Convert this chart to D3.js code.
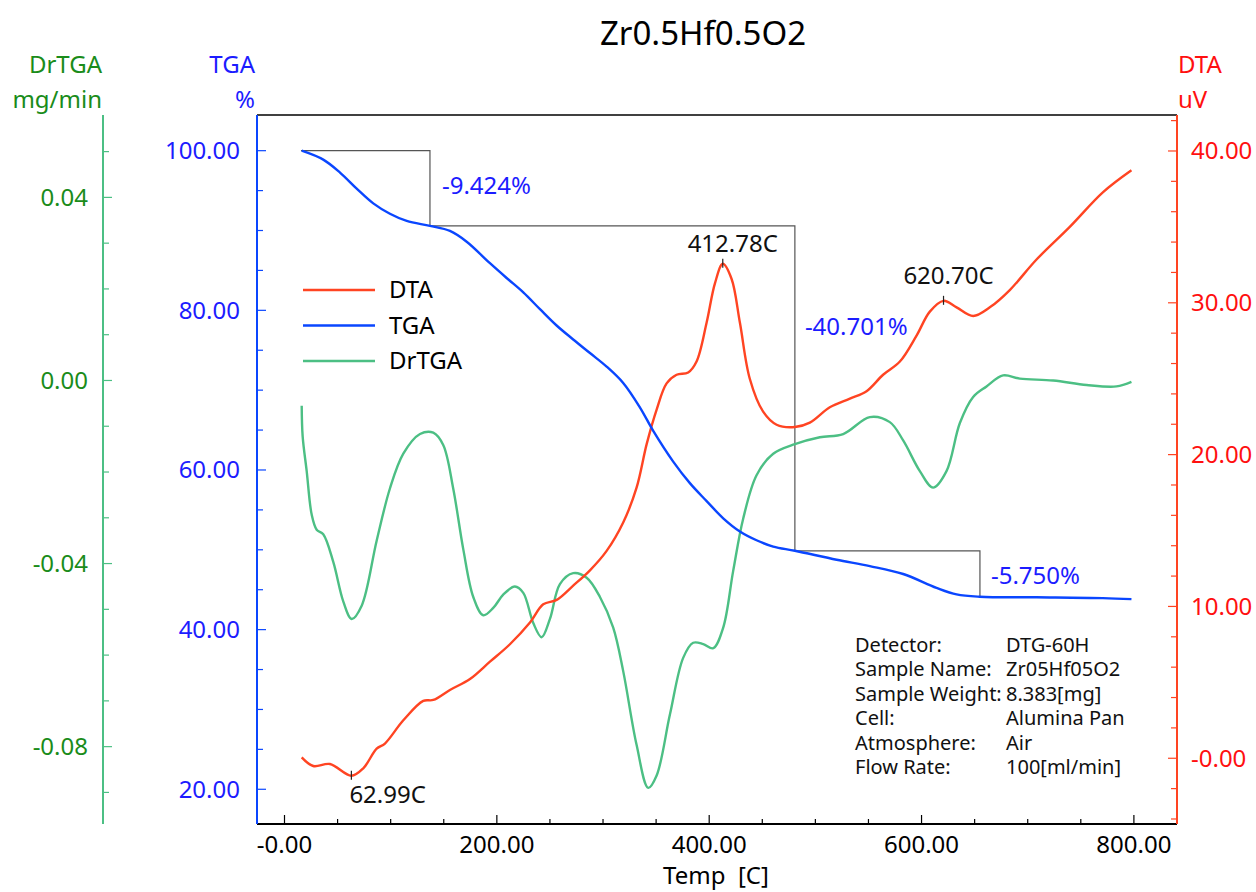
<!DOCTYPE html>
<html>
<head>
<meta charset="utf-8">
<script src="https://cdn.jsdelivr.net/npm/d3@7"></script>
<style>
  html, body { margin: 0; padding: 0; background: #fff; }
  svg { display: block; font-family: "Noto Sans", "Open Sans", sans-serif; }
</style>
</head>
<body>
<svg id="chart" width="1256" height="892"></svg>
<script>
// ---------------- DATA ----------------
const chartTitle = "Zr0.5Hf0.5O2";

const tgaTemp = [16.2, 36.5, 52.3, 68.0, 83.6, 99.3, 115.1, 137.0, 155.8, 171.6, 193.5, 209.2, 224.9, 240.6, 256.3, 271.9, 287.7, 303.4, 319.0, 334.7, 347.3, 366.1, 381.8, 397.6, 413.2, 428.9, 444.6, 460.3, 480.7, 520.0, 551.3, 582.7, 614.1, 633.0, 654.9, 708.3, 770.7, 797.7];
const tgaValue = [100.0, 98.88, 97.26, 95.25, 93.40, 92.10, 91.20, 90.58, 89.95, 88.60, 85.90, 84.05, 82.25, 80.15, 78.10, 76.35, 74.65, 72.95, 70.90, 67.85, 64.90, 61.05, 58.35, 56.10, 53.95, 52.30, 51.20, 50.40, 49.88, 48.76, 47.96, 46.97, 45.23, 44.41, 44.12, 44.05, 43.95, 43.82];

const dtaTemp = [16.2, 27.1, 42.8, 63.0, 74.2, 86.8, 94.6, 111.9, 130.7, 140.1, 155.8, 174.7, 193.5, 212.3, 231.2, 243.7, 256.3, 271.9, 287.7, 303.4, 319.0, 331.6, 341.1, 350.5, 359.9, 369.3, 380.2, 388.1, 397.6, 405.4, 412.8, 421.1, 428.9, 438.3, 450.8, 463.5, 480.7, 494.8, 513.6, 532.5, 548.2, 563.8, 579.6, 595.3, 607.8, 620.7, 633.0, 648.6, 664.3, 683.1, 708.3, 739.6, 771.0, 797.7];
const dtaValue = [0.06, -0.51, -0.38, -1.15, -0.66, 0.63, 0.97, 2.50, 3.78, 3.84, 4.50, 5.22, 6.36, 7.51, 8.94, 10.14, 10.43, 11.37, 12.38, 13.66, 15.53, 17.82, 20.69, 22.97, 24.69, 25.26, 25.41, 26.13, 28.70, 31.28, 32.57, 31.57, 28.70, 24.98, 22.83, 21.97, 21.82, 22.11, 23.12, 23.69, 24.18, 25.26, 26.13, 27.84, 29.42, 30.13, 29.70, 29.13, 29.70, 30.84, 32.85, 35.00, 37.29, 38.73];

const drtgaTemp = [16.2, 17.1, 20.9, 25.6, 30.3, 36.5, 46.0, 55.4, 63.3, 72.7, 86.8, 99.3, 111.9, 127.6, 140.1, 149.5, 158.9, 168.4, 177.8, 187.2, 196.6, 206.0, 217.0, 224.9, 234.3, 242.2, 250.0, 259.4, 271.9, 284.6, 297.1, 309.6, 319.0, 331.6, 342.6, 350.5, 363.0, 375.5, 384.9, 394.4, 403.8, 413.2, 422.6, 432.0, 444.6, 460.3, 480.7, 504.2, 526.2, 551.3, 570.1, 582.7, 598.4, 610.9, 623.5, 636.1, 648.6, 661.2, 676.8, 692.6, 724.0, 755.5, 783.6, 797.7];
const drtgaValue = [-0.0055, -0.0122, -0.0198, -0.0293, -0.0326, -0.0336, -0.0397, -0.0483, -0.0521, -0.0492, -0.0350, -0.0236, -0.0160, -0.0117, -0.0114, -0.0141, -0.0236, -0.0369, -0.0473, -0.0513, -0.0497, -0.0468, -0.0450, -0.0464, -0.0530, -0.0561, -0.0521, -0.0445, -0.0421, -0.0431, -0.0473, -0.0540, -0.0635, -0.0796, -0.0890, -0.0863, -0.0730, -0.0606, -0.0573, -0.0576, -0.0585, -0.0540, -0.0416, -0.0302, -0.0207, -0.0160, -0.0139, -0.0124, -0.0117, -0.0080, -0.0091, -0.0131, -0.0198, -0.0234, -0.0198, -0.0093, -0.0036, -0.0013, 0.0011, 0.0004, 0.0000, -0.0010, -0.0013, -0.0003];

const xTickValues = [0, 200, 400, 600, 800];
const xTickLabels = ["-0.00", "200.00", "400.00", "600.00", "800.00"];
const tgaTickValues = [20, 40, 60, 80, 100];
const tgaTickLabels = ["20.00", "40.00", "60.00", "80.00", "100.00"];
const dtaTickValues = [0, 10, 20, 30, 40];
const dtaTickLabels = ["-0.00", "10.00", "20.00", "30.00", "40.00"];
const drTickValues = [-0.08, -0.04, 0, 0.04];
const drTickLabels = ["-0.08", "-0.04", "0.00", "0.04"];

// TGA step analysis
const stepTemp = [15.5, 137.0, 480.7, 655.0];
const stepTGA = [100.0, 90.576, 49.875, 44.125];
const stepLabels = ["-9.424%", "-40.701%", "-5.750%"];

// DTA peaks
const peakTemp = [62.99, 412.78, 620.70];
const peakDTA = [-1.15, 32.57, 30.13];
const peakLabels = ["62.99C", "412.78C", "620.70C"];

const legendNames = ["DTA", "TGA", "DrTGA"];

const infoKeys = ["Detector:", "Sample Name:", "Sample Weight:", "Cell:", "Atmosphere:", "Flow Rate:"];
const infoValues = ["DTG-60H", "Zr05Hf05O2", "8.383[mg]", "Alumina Pan", "Air", "100[ml/min]"];

// ---------------- STYLE ----------------
const C = {
  dta: "#ff4422", dtaText: "#ff1010",
  tga: "#0a46ff", tgaText: "#1c1cff",
  dr: "#4cbf84", drText: "#1a8c1a"
};
const FS = 24;

const svg = d3.select("#chart");
const L = 257, R = 1177, T = 115, B = 824;

const x = d3.scaleLinear().domain([-25.9, 840.6]).range([L, R]);
const yT = d3.scaleLinear().domain([15.65, 104.47]).range([B, T]);
const yD = d3.scaleLinear().domain([-4.33, 42.37]).range([B, T]);
const yR = d3.scaleLinear().domain([-0.0969, 0.0580]).range([B, T]);

// Title
svg.append("text").attr("x", 703).attr("y", 33).attr("dy", "0.35em").attr("text-anchor", "middle")
  .attr("font-size", 33).attr("fill", "#000").text(chartTitle);

// top frame line
svg.append("line").attr("x1", L).attr("x2", R).attr("y1", T).attr("y2", T)
  .attr("stroke", "#000").attr("stroke-width", 1.5);

// ---------- X axis ----------
const gx = svg.append("g");
gx.append("line").attr("x1", L).attr("x2", R).attr("y1", B).attr("y2", B)
  .attr("stroke", "#000").attr("stroke-width", 2);
const xMinor = d3.range(0, 801, 50);
gx.selectAll(".xt").data(xMinor).join("line")
  .attr("x1", d => x(d)).attr("x2", d => x(d))
  .attr("y1", B).attr("y2", d => d % 200 === 0 ? B - 9 : B - 5)
  .attr("stroke", "#000").attr("stroke-width", 1.2);
gx.selectAll(".xl").data(xTickValues).join("text")
  .attr("x", d => x(d)).attr("y", 845).attr("dy", "0.35em")
  .attr("text-anchor", "middle").attr("font-size", FS).attr("fill", "#000")
  .text((d, i) => xTickLabels[i]);
svg.append("text").attr("x", 716).attr("y", 876).attr("dy", "0.35em")
  .attr("text-anchor", "middle").attr("font-size", FS).attr("fill", "#000")
  .attr("xml:space", "preserve").text("Temp  [C]");

// ---------- TGA axis (left, inner) ----------
const gt = svg.append("g");
gt.append("line").attr("x1", L).attr("x2", L).attr("y1", T).attr("y2", B)
  .attr("stroke", C.tga).attr("stroke-width", 2);
gt.selectAll("line.t").data(d3.range(20, 101, 5)).join("line")
  .attr("x1", L).attr("x2", d => d % 20 === 0 ? L + 9 : L + 6)
  .attr("y1", d => yT(d)).attr("y2", d => yT(d))
  .attr("stroke", C.tga).attr("stroke-width", 1.2);
gt.selectAll("text").data(tgaTickValues).join("text")
  .attr("x", 240).attr("y", d => yT(d)).attr("dy", "0.35em")
  .attr("text-anchor", "end").attr("font-size", FS).attr("fill", C.tgaText)
  .text((d, i) => tgaTickLabels[i]);
svg.append("text").attr("x", 255).attr("y", 65).attr("dy", "0.35em").attr("text-anchor", "end")
  .attr("font-size", FS).attr("fill", C.tgaText).text("TGA");
svg.append("text").attr("x", 255).attr("y", 100).attr("dy", "0.35em").attr("text-anchor", "end")
  .attr("font-size", FS).attr("fill", C.tgaText).text("%");

// ---------- DTA axis (right) ----------
const gd = svg.append("g");
gd.append("line").attr("x1", R).attr("x2", R).attr("y1", T).attr("y2", B)
  .attr("stroke", C.dta).attr("stroke-width", 2);
gd.selectAll("line.t").data(d3.range(-4, 43, 2)).join("line")
  .attr("x1", R).attr("x2", d => d % 10 === 0 ? R - 9 : R - 6)
  .attr("y1", d => yD(d)).attr("y2", d => yD(d))
  .attr("stroke", C.dta).attr("stroke-width", 1.2);
gd.selectAll("text").data(dtaTickValues).join("text")
  .attr("x", 1191).attr("y", d => yD(d)).attr("dy", "0.35em")
  .attr("text-anchor", "start").attr("font-size", FS).attr("fill", C.dtaText)
  .text((d, i) => dtaTickLabels[i]);
svg.append("text").attr("x", 1178).attr("y", 65).attr("dy", "0.35em")
  .attr("font-size", FS).attr("fill", C.dtaText).text("DTA");
svg.append("text").attr("x", 1178).attr("y", 100).attr("dy", "0.35em")
  .attr("font-size", FS).attr("fill", C.dtaText).text("uV");

// ---------- DrTGA axis (far left) ----------
const AX = 103;
const gr = svg.append("g");
gr.append("line").attr("x1", AX).attr("x2", AX).attr("y1", T).attr("y2", B)
  .attr("stroke", C.dr).attr("stroke-width", 2);
gr.selectAll("line.t").data(d3.range(-9, 6, 1)).join("line")
  .attr("x1", AX).attr("x2", d => d % 4 === 0 ? AX + 9 : AX + 6)
  .attr("y1", d => yR(d / 100)).attr("y2", d => yR(d / 100))
  .attr("stroke", C.dr).attr("stroke-width", 1.2);
gr.selectAll("text").data(drTickValues).join("text")
  .attr("x", 88).attr("y", d => yR(d)).attr("dy", "0.35em")
  .attr("text-anchor", "end").attr("font-size", FS).attr("fill", C.drText)
  .text((d, i) => drTickLabels[i]);
svg.append("text").attr("x", 102).attr("y", 65).attr("dy", "0.35em").attr("text-anchor", "end")
  .attr("font-size", FS).attr("fill", C.drText).text("DrTGA");
svg.append("text").attr("x", 102).attr("y", 100).attr("dy", "0.35em").attr("text-anchor", "end")
  .attr("font-size", FS).attr("fill", C.drText).text("mg/min");

// ---------- step annotation lines ----------
const stepPath = d3.path();
for (let i = 0; i < stepTemp.length - 1; i++) {
  stepPath.moveTo(x(stepTemp[i]), yT(stepTGA[i]));
  stepPath.lineTo(x(stepTemp[i + 1]), yT(stepTGA[i]));
  stepPath.lineTo(x(stepTemp[i + 1]), yT(stepTGA[i + 1]));
}
svg.append("path").attr("d", stepPath.toString()).attr("fill", "none")
  .attr("stroke", "#555").attr("stroke-width", 1.2);

// ---------- curves ----------
function drawCurve(tx, vals, yScale, color) {
  const pts = tx.map((t, i) => [x(t), yScale(vals[i])]);
  svg.append("path").attr("d", d3.line().curve(d3.curveCatmullRom.alpha(0.5))(pts))
    .attr("fill", "none").attr("stroke", color).attr("stroke-width", 2.4)
    .attr("stroke-linejoin", "round");
}
drawCurve(drtgaTemp, drtgaValue, yR, C.dr);
drawCurve(dtaTemp, dtaValue, yD, C.dta);
drawCurve(tgaTemp, tgaValue, yT, C.tga);

// step labels (offset from the top of each vertical step segment)
const stepLabelOffset = [[12, 35], [10, 101], [11, 25]];
stepLabels.forEach((s, i) => {
  const px = x(stepTemp[i + 1]) + stepLabelOffset[i][0];
  const py = yT(stepTGA[i]) + stepLabelOffset[i][1];
  svg.append("text").attr("x", px).attr("y", py).attr("dy", "0.35em")
    .attr("font-size", FS).attr("fill", C.tgaText).text(s);
});

// peaks
const peakLabelOffset = [[-2, 19, "start"], [10, -20, "middle"], [5, -25, "middle"]];
peakTemp.forEach((t, i) => {
  const px = x(t), py = yD(peakDTA[i]);
  svg.append("line").attr("x1", px).attr("x2", px).attr("y1", py - 5).attr("y2", py + 4)
    .attr("stroke", "#222").attr("stroke-width", 1.2);
  svg.append("text").attr("x", px + peakLabelOffset[i][0]).attr("y", py + peakLabelOffset[i][1])
    .attr("dy", "0.35em").attr("text-anchor", peakLabelOffset[i][2])
    .attr("font-size", FS).attr("fill", "#111").text(peakLabels[i]);
});

// ---------- legend ----------
const legColors = [C.dta, C.tga, C.dr];
legendNames.forEach((n, i) => {
  const ly = 290 + i * 35.5;
  svg.append("line").attr("x1", 303).attr("x2", 375).attr("y1", ly).attr("y2", ly)
    .attr("stroke", legColors[i]).attr("stroke-width", 2.4);
  svg.append("text").attr("x", 389).attr("y", ly).attr("dy", "0.35em")
    .attr("font-size", FS).attr("fill", "#000").text(n);
});

// ---------- info box ----------
infoKeys.forEach((k, i) => {
  const iy = 645 + i * 24.4;
  svg.append("text").attr("x", 855).attr("y", iy).attr("dy", "0.35em")
    .attr("font-size", 20).attr("fill", "#111").text(k);
  svg.append("text").attr("x", 1006).attr("y", iy).attr("dy", "0.35em")
    .attr("font-size", 20).attr("fill", "#111").text(infoValues[i]);
});
</script>
</body>
</html>
